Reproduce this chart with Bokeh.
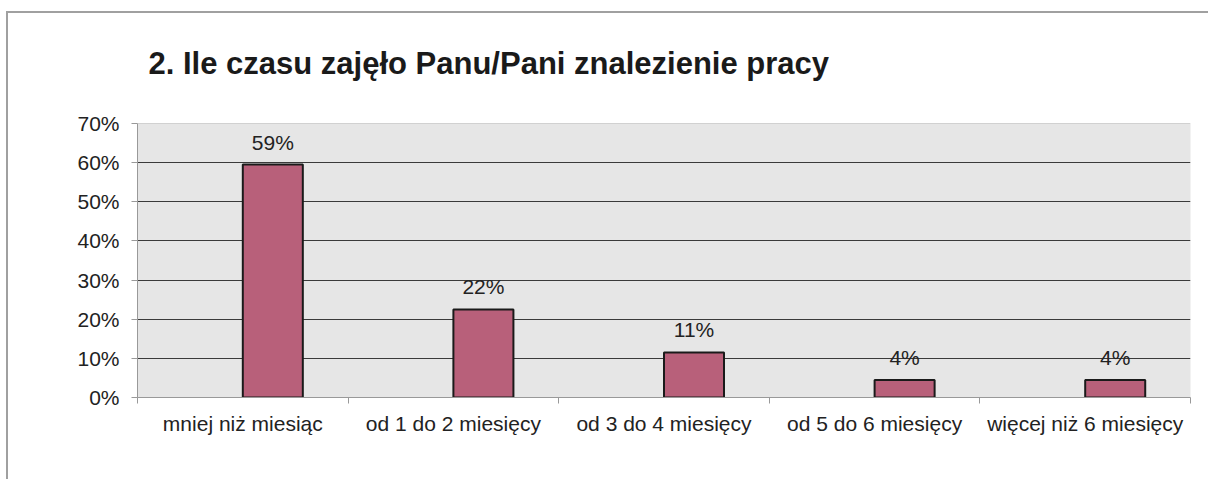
from bokeh.plotting import figure
from bokeh.models import ColumnDataSource, FixedTicker, Range1d, NumeralTickFormatter, Title, Span
from bokeh.core.properties import value
from bokeh.transform import dodge
from bokeh.embed import file_html
from bokeh.resources import INLINE

categories = ["mniej niż miesiąc", "od 1 do 2 miesięcy", "od 3 do 4 miesięcy",
              "od 5 do 6 miesięcy", "więcej niż 6 miesięcy"]
shares = [0.595, 0.225, 0.115, 0.045, 0.045]
labels = ["59%", "22%", "11%", "4%", "4%"]
y_ticks = [0, 0.1, 0.2, 0.3, 0.4, 0.5, 0.6, 0.7]
title_text = "2. Ile czasu zajęło Panu/Pani znalezienie pracy"

xs = [i + 0.5 for i in range(len(categories))]
src = ColumnDataSource(dict(x=xs, top=shares, lab=labels))

FONT = "Liberation Sans"
BAR_W = 0.285

p = figure(width=1202, height=479, output_backend="svg", toolbar_location=None,
           x_range=Range1d(0, len(categories)), y_range=Range1d(0, 0.7),
           min_border_left=131, min_border_right=18, min_border_top=123, min_border_bottom=82)
p.styles = {"margin-left": "6px",
            "background": ("linear-gradient(#a0a0a0, #a0a0a0) no-repeat 0px 11px / 100% 2px, "
                           "linear-gradient(#a0a0a0, #a0a0a0) no-repeat 0px 11px / 2px 100%")}

title = Title(text=title_text, align="left",
              text_font=FONT, text_font_size="31px", text_font_style="bold",
              text_color="#1a1a1a", offset=11, standoff=86)
p.add_layout(title, "above")

p.background_fill_color = "#e6e6e6"
p.border_fill_alpha = 0
p.outline_line_color = None

p.vbar(x=dodge("x", BAR_W / 2, range=p.x_range), top="top", width=BAR_W, source=src,
       fill_color="#b8607a", line_color="#1a1a1a", line_width=2)
p.text(x=dodge("x", BAR_W / 2, range=p.x_range), y="top", text="lab", source=src,
       text_align="center", text_baseline="bottom", y_offset=-11,
       text_font=value(FONT), text_font_size="21px", text_color="#222222")

# y axis
p.yaxis.ticker = FixedTicker(ticks=y_ticks)
p.yaxis.formatter = NumeralTickFormatter(format="0%")
p.yaxis.major_label_text_font = FONT
p.yaxis.major_label_text_font_size = "21px"
p.yaxis.major_label_text_color = "#222222"
p.yaxis.axis_line_color = "#999999"
p.yaxis.major_tick_line_color = "#999999"
p.yaxis.major_tick_out = 6
p.yaxis.major_tick_in = 0
p.yaxis.minor_tick_line_color = None
p.yaxis.major_label_standoff = 12

# x axis
p.xaxis.ticker = FixedTicker(ticks=xs, minor_ticks=list(range(len(categories) + 1)))
p.xaxis.major_label_overrides = {x: c for x, c in zip(xs, categories)}
p.xaxis.major_label_text_font = FONT
p.xaxis.major_label_text_font_size = "21px"
p.xaxis.major_label_text_color = "#222222"
p.xaxis.axis_line_color = "#999999"
p.xaxis.major_tick_line_color = None
p.xaxis.major_tick_out = 0
p.xaxis.minor_tick_line_color = "#999999"
p.xaxis.minor_tick_out = 6
p.xaxis.minor_tick_in = 0
p.xaxis.major_label_standoff = 8

p.xgrid.grid_line_color = None
p.ygrid.ticker = FixedTicker(ticks=y_ticks[1:-1])
p.ygrid.grid_line_color = "#3a3a3a"
p.ygrid.grid_line_width = 1
p.add_layout(Span(location=y_ticks[-1], dimension="width", line_color="#b0b0b0", line_width=1))

open("out.html", "w").write(file_html(p, INLINE))
